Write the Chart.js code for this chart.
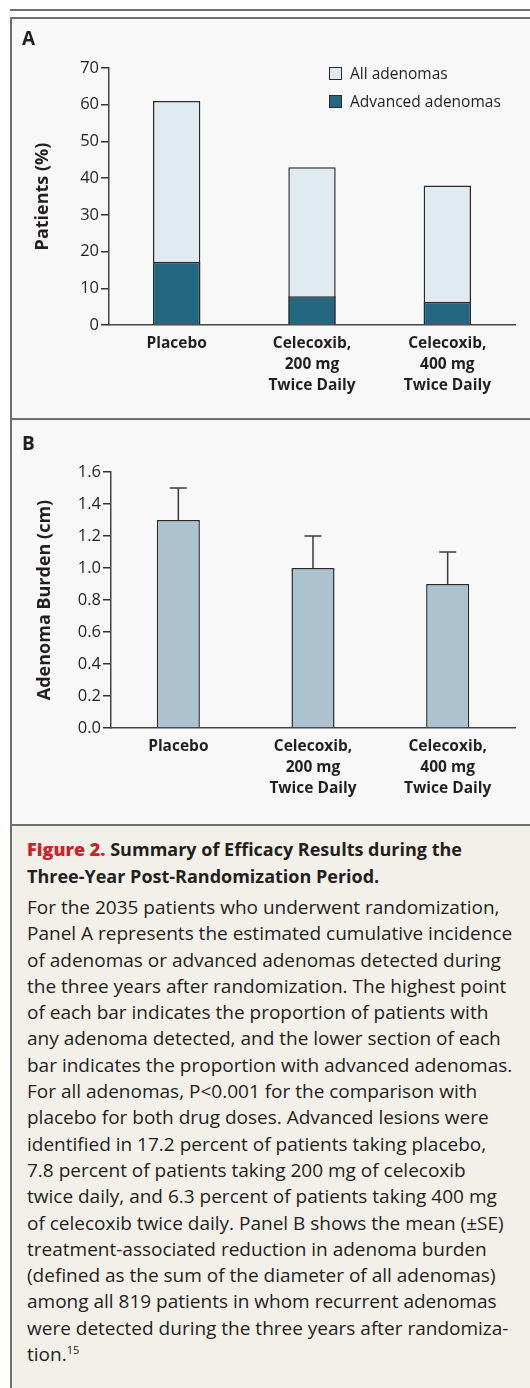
<!DOCTYPE html>
<html>
<head>
<meta charset="utf-8">
<script src="https://cdn.jsdelivr.net/npm/chart.js@4.4.1/dist/chart.umd.min.js"></script>
<style>
body{margin:0;width:530px;height:1388px;overflow:hidden;background:#fff;position:relative;font-family:"Open Sans","Noto Sans",sans-serif;color:#231f20}
#topline{position:absolute;left:10px;top:9px;width:520px;height:2px;background:#6f6f6f}
#frame{position:absolute;left:10px;top:17px;width:540px;height:1400px;border:2px solid #6f6f6f;box-sizing:border-box;background:#f3f0ea}
.panel{position:absolute;left:12px;width:518px;background:#f8f8f8}
#panelA{top:19px;height:399px}
#panelB{top:421px;height:403px}
.sep{position:absolute;left:12px;width:518px;height:2px;background:#6f6f6f}
.letter{position:absolute;left:10px;font-weight:bold;font-size:19px;line-height:20px}
canvas{position:absolute;left:0;top:0}
.legend{position:absolute;left:317px;font-size:15.5px;line-height:20px;white-space:nowrap}
.legend span{display:inline-block;width:11px;height:11px;border:1.5px solid #2b2b2b;vertical-align:-1px;margin-right:8px}
#caption{position:absolute;left:27px;top:836px;white-space:nowrap}
#caption .title{font-weight:bold;font-size:18px;line-height:27px}
#caption .title b{color:#cf2128}
#caption .body{font-size:19px;line-height:26.3px;margin-top:4px}
sup{font-size:11px;line-height:0}
</style>
</head>
<body>
<div id="topline"></div>
<div id="frame"></div>

<div class="panel" id="panelA">
  <canvas id="chartA" width="518" height="399"></canvas>
  <div class="letter" style="top:9px">A</div>
  <div class="legend" style="top:44px"><span style="background:#e0ebf1"></span>All adenomas</div>
  <div class="legend" style="top:72px"><span style="background:#236780"></span>Advanced adenomas</div>
</div>
<div class="sep" style="top:418px"></div>

<div class="panel" id="panelB">
  <canvas id="chartB" width="518" height="403"></canvas>
  <div class="letter" style="top:12px">B</div>
</div>
<div class="sep" style="top:824px"></div>

<div id="caption">
  <div class="title"><b>Figure 2.</b> Summary of Efficacy Results during the<br>Three-Year Post-Randomization Period.</div>
  <div class="body">For the 2035 patients who underwent randomization,<br>Panel A represents the estimated cumulative incidence<br>of adenomas or advanced adenomas detected during<br>the three years after randomization. The highest point<br>of each bar indicates the proportion of patients with<br>any adenoma detected, and the lower section of each<br>bar indicates the proportion with advanced adenomas.<br>For all adenomas, P&lt;0.001 for the comparison with<br>placebo for both drug doses. Advanced lesions were<br>identified in 17.2 percent of patients taking placebo,<br>7.8 percent of patients taking 200 mg of celecoxib<br>twice daily, and 6.3 percent of patients taking 400 mg<br>of celecoxib twice daily. Panel B shows the mean (±SE)<br>treatment-associated reduction in adenoma burden<br>(defined as the sum of the diameter of all adenomas)<br>among all 819 patients in whom recurrent adenomas<br>were detected during the three years after randomiza-<br>tion.<sup>15</sup></div>
</div>

<script>
// data
var groups = [['Placebo'], ['Celecoxib,', '200 mg', 'Twice Daily'], ['Celecoxib,', '400 mg', 'Twice Daily']];
var allAdenomas = [61, 43, 38];
var advancedAdenomas = [17.2, 7.8, 6.3];
var burdenMean = [1.3, 1.0, 0.9];
var burdenSE = [0.2, 0.2, 0.2];

var ink = '#231f20';
Chart.defaults.font.family = '"Open Sans", "Noto Sans", sans-serif';
Chart.defaults.color = ink;

function xAxis() {
  return {
    grid: {display: false, drawTicks: false},
    border: {display: true, color: '#444', width: 1.5},
    ticks: {font: {size: 15.5, weight: 'bold', lineHeight: 1.35}, color: ink, padding: 8, maxRotation: 0, autoSkip: false},
    afterFit: function (s) { s.height = 80; }
  };
}
function yAxis(max, step, title, titlePad, width, fmt) {
  return {
    min: 0, max: max,
    ticks: {stepSize: step, font: {size: 16.5}, color: ink, padding: 2, callback: fmt},
    grid: {drawOnChartArea: false, drawTicks: true, tickLength: 8, color: '#333', lineWidth: 1.5},
    border: {display: true, color: '#444', width: 1.5},
    title: {display: true, text: title, font: {size: 18, weight: 'bold'}, color: ink, padding: {top: titlePad, bottom: 0}},
    afterFit: function (s) { s.width = width; }
  };
}

// Panel A: advanced drawn on top of the full bar
new Chart(document.getElementById('chartA'), {
  type: 'bar',
  data: {
    labels: groups,
    datasets: [
      {label: 'Advanced adenomas', data: advancedAdenomas, backgroundColor: '#236780', borderColor: '#2b2b2b', borderWidth: 1.5},
      {label: 'All adenomas', data: allAdenomas, backgroundColor: '#e0ebf1', borderColor: '#2b2b2b', borderWidth: 1.5}
    ]
  },
  options: {
    responsive: false, animation: false, devicePixelRatio: 1,
    layout: {padding: {left: 12, right: 15, top: 49, bottom: 13}},
    datasets: {bar: {grouped: false, barPercentage: 0.35, categoryPercentage: 1}},
    plugins: {legend: {display: false}, tooltip: {enabled: false}},
    scales: {
      x: xAxis(),
      y: yAxis(70, 10, 'Patients (%)', 8, 85, function (v) { return v; })
    }
  }
});

var errorBars = {
  id: 'errorBars',
  afterDatasetsDraw: function (chart) {
    var ctx = chart.ctx, y = chart.scales.y;
    ctx.save();
    ctx.strokeStyle = '#3a3a3a';
    ctx.lineWidth = 1.5;
    chart.getDatasetMeta(0).data.forEach(function (bar, i) {
      var top = y.getPixelForValue(burdenMean[i] + burdenSE[i]);
      ctx.beginPath();
      ctx.moveTo(bar.x, bar.y);
      ctx.lineTo(bar.x, top);
      ctx.moveTo(bar.x - 8.5, top);
      ctx.lineTo(bar.x + 8.5, top);
      ctx.stroke();
    });
    ctx.restore();
  }
};

new Chart(document.getElementById('chartB'), {
  type: 'bar',
  data: {
    labels: groups,
    datasets: [{label: 'Adenoma burden', data: burdenMean, backgroundColor: '#acc3cf', borderColor: '#2b2b2b', borderWidth: 1.5}]
  },
  options: {
    responsive: false, animation: false, devicePixelRatio: 1,
    layout: {padding: {left: 12, right: 15, top: 51, bottom: 16}},
    datasets: {bar: {barPercentage: 0.32, categoryPercentage: 1}},
    plugins: {legend: {display: false}, tooltip: {enabled: false}},
    scales: {
      x: xAxis(),
      y: yAxis(1.6, 0.2, 'Adenoma Burden (cm)', 10, 87, function (v) { return v.toFixed(1); })
    }
  },
  plugins: [errorBars]
});
</script>
</body>
</html>
